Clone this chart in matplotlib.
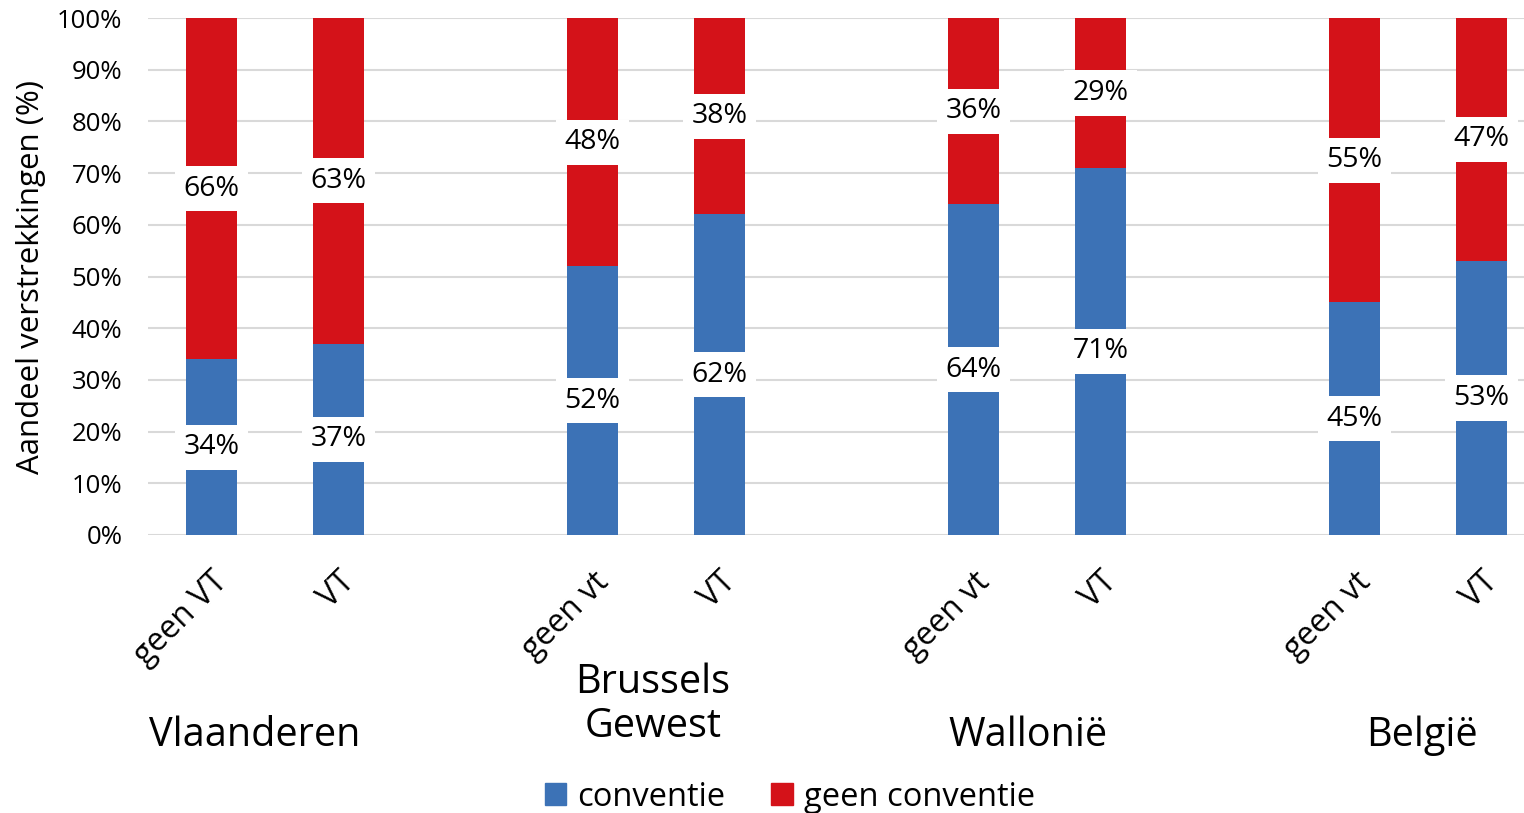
import matplotlib
matplotlib.use("Agg")
import matplotlib.pyplot as plt
from matplotlib.patches import Patch

plt.rcParams['font.family'] = ['Open Sans', 'DejaVu Sans']

# Data
categories = ["geen VT", "VT", "geen vt", "VT", "geen vt", "VT", "geen vt", "VT"]
groups = ["Vlaanderen", "Brussels\nGewest", "Wallonië", "België"]
conventie = [34, 37, 52, 62, 64, 71, 45, 53]
geen_conventie = [66, 63, 48, 38, 36, 29, 55, 47]
yticks = [0, 10, 20, 30, 40, 50, 60, 70, 80, 90, 100]

blue = "#3C72B6"
red = "#D41219"
grid_c = "#D9D9D9"

positions = [0, 1, 3, 4, 6, 7, 9, 10]
group_centers = [0.5, 3.5, 6.5, 9.5]
group_dx = [-20, -3, -9, 4]      # pixel nudges of group labels
group_y = [736, 705, 736, 736]   # pixel y of group labels

W, H = 1524, 813
fig = plt.figure(figsize=(W / 100, H / 100), dpi=100)
left, right = 148 / W, 1545 / W
bottom, top = 1 - 535 / H, 1 - 18 / H
ax = fig.add_axes([left, bottom, right - left, top - bottom])

ax.bar(positions, conventie, width=0.4, color=blue, label="conventie", zorder=2)
ax.bar(positions, geen_conventie, width=0.4, bottom=conventie, color=red,
       label="geen conventie", zorder=2)

box = dict(boxstyle="square,pad=0.3", fc="white", ec="none")
for x, c, g in zip(positions, conventie, geen_conventie):
    ax.text(x, c / 2, f"{c}%", ha="center", va="center", fontsize=20.5,
            bbox=box, zorder=3)
    ax.text(x, c + g / 2, f"{g}%", ha="center", va="center", fontsize=20.5,
            bbox=box, zorder=3)

ax.set_ylim(0, 100)
ax.set_xlim(-0.5, 10.5)
ax.set_yticks(yticks)
ax.set_yticklabels([f"{v}%" for v in yticks], fontsize=18.5)
ax.yaxis.grid(True, color=grid_c, linewidth=1.5, zorder=0)
ax.set_axisbelow(True)
for s in ax.spines.values():
    s.set_visible(False)
ax.tick_params(axis="both", length=0)
ax.tick_params(axis="y", pad=18.5)

ax.set_xticks(positions)
ax.set_xticklabels(categories, rotation=45, ha="right", rotation_mode="anchor",
                   fontsize=23)
ax.tick_params(axis="x", pad=22)

ax.set_ylabel("Aandeel verstrekkingen (%)", fontsize=22.5, labelpad=8)

# group labels
for gx, dx, gy, name in zip(group_centers, group_dx, group_y, groups):
    xf = (ax.transData.transform((gx, 0))[0] + dx) / W
    fig.text(xf, 1 - gy / H, name, ha="center", va="center", fontsize=28.5,
             linespacing=1.12)

handles = [Patch(color=blue, label="conventie"), Patch(color=red, label="geen conventie")]
fig.legend(handles=handles, loc="center", bbox_to_anchor=(790 / W, 1 - 797 / H),
           ncol=2, frameon=False, fontsize=23.5, handlelength=0.65, handleheight=0.65,
           columnspacing=1.4, handletextpad=0.35)

fig.savefig("out.png", dpi=100)
